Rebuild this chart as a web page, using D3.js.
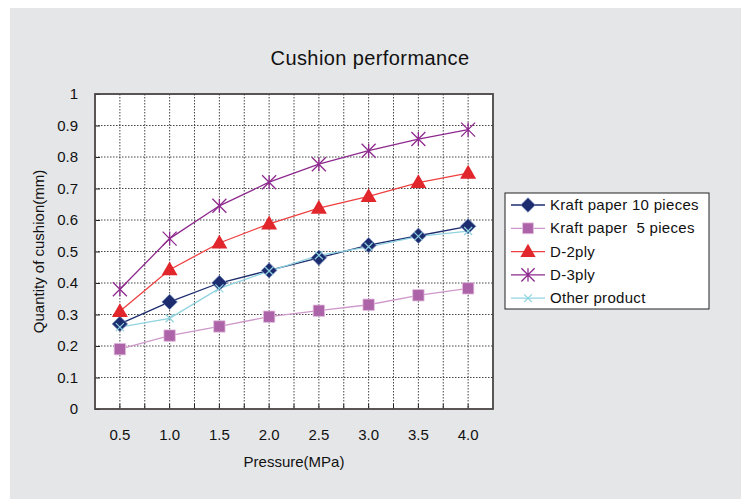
<!DOCTYPE html>
<html>
<head>
<meta charset="utf-8">
<script src="https://cdn.jsdelivr.net/npm/d3@7/dist/d3.min.js"></script>
<style>
  body { margin: 0; background: #fff; }
  text { font-family: "Liberation Sans", Arial, sans-serif; fill: #111; }
</style>
</head>
<body>
<svg id="chart" width="741" height="500"></svg>
<script>
// data
const pressures = ['0.5', '1.0', '1.5', '2.0', '2.5', '3.0', '3.5', '4.0'];
const yTicks = [0, 0.1, 0.2, 0.3, 0.4, 0.5, 0.6, 0.7, 0.8, 0.9, 1];
const kraft10 = [0.27, 0.34, 0.40, 0.44, 0.48, 0.52, 0.55, 0.58];
const kraft5 = [0.19, 0.233, 0.262, 0.293, 0.312, 0.331, 0.361, 0.383];
const d2ply = [0.31, 0.442, 0.527, 0.588, 0.638, 0.675, 0.719, 0.749];
const d3ply = [0.38, 0.541, 0.645, 0.72, 0.777, 0.82, 0.857, 0.887];
const other = [0.26, 0.288, 0.383, 0.438, 0.488, 0.515, 0.548, 0.565];

const series = [
    {name: 'Kraft paper 10 pieces', values: kraft10, line: '#1c2c6e', fill: '#1c2c6e', marker: 'diamond'},
    {name: 'Kraft paper  5 pieces', values: kraft5, line: '#cf98cb', fill: '#ad63a7', marker: 'square'},
    {name: 'D-2ply', values: d2ply, line: '#ef4040', fill: '#e1262c', marker: 'triangle'},
    {name: 'D-3ply', values: d3ply, line: '#8e2a8e', fill: '#8e2a8e', marker: 'star'},
    {name: 'Other product', values: other, line: '#8fd3df', fill: '#8fd3df', marker: 'x'}
];

const svg = d3.select('#chart');
const PLOT_L = 95, PLOT_T = 94, PLOT_R = 493, PLOT_B = 409;

svg.append('rect').attr('x', 10).attr('y', 8).attr('width', 731).attr('height', 491).attr('fill', '#e5e6e8');

svg.append('text').attr('x', 370).attr('y', 65).attr('text-anchor', 'middle')
    .style('font-size', '20px').style('letter-spacing', '0.4px').text('Cushion performance');

const x = d3.scaleBand().domain(pressures).range([PLOT_L, PLOT_R]);
const y = d3.scaleLinear().domain([0, 1]).range([PLOT_B, PLOT_T]);
const cx = d => x(d) + x.bandwidth() / 2;

svg.append('rect').attr('x', PLOT_L).attr('y', PLOT_T)
    .attr('width', PLOT_R - PLOT_L).attr('height', PLOT_B - PLOT_T).attr('fill', '#fff');

// grid: vertical at band centres and boundaries, horizontal every 0.1
const vLines = [];
pressures.forEach((p, i) => {
    if (i > 0) vLines.push(x(p));
    vLines.push(cx(p));
});
svg.append('g').selectAll('line.vg').data(vLines).enter().append('line')
    .attr('x1', d => d).attr('x2', d => d).attr('y1', PLOT_T).attr('y2', PLOT_B)
    .attr('stroke', '#444').attr('stroke-width', 1).attr('stroke-dasharray', '1.5,1.5');
svg.append('g').selectAll('line.hg').data(yTicks.slice(1, -1)).enter().append('line')
    .attr('x1', PLOT_L).attr('x2', PLOT_R).attr('y1', d => y(d)).attr('y2', d => y(d))
    .attr('stroke', '#444').attr('stroke-width', 1).attr('stroke-dasharray', '1.5,1.5');

// axes
const yAxis = svg.append('g').attr('transform', 'translate(' + PLOT_L + ',0)')
    .call(d3.axisRight(y).tickValues(yTicks).tickSize(5).tickFormat(d => d === 0 || d === 1 ? d : d.toFixed(1)));
yAxis.select('.domain').remove();
yAxis.selectAll('line').attr('stroke', '#222');
yAxis.selectAll('text').attr('x', -17).attr('text-anchor', 'end').style('font-size', '15px');

const xAxis = svg.append('g').attr('transform', 'translate(0,' + PLOT_B + ')')
    .call(d3.axisBottom(x).tickSize(0).tickPadding(20));
xAxis.select('.domain').remove();
xAxis.selectAll('text').style('font-size', '15px');
svg.append('g').selectAll('line.xt').data(vLines).enter().append('line')
    .attr('x1', d => d).attr('x2', d => d).attr('y1', PLOT_B).attr('y2', PLOT_B - 5)
    .attr('stroke', '#222');

svg.append('rect').attr('x', PLOT_L).attr('y', PLOT_T)
    .attr('width', PLOT_R - PLOT_L).attr('height', PLOT_B - PLOT_T)
    .attr('fill', 'none').attr('stroke', '#4a4444').attr('stroke-width', 1.8);

svg.append('text').attr('x', 294).attr('y', 467).attr('text-anchor', 'middle')
    .style('font-size', '15px').text('Pressure(MPa)');
svg.append('text').attr('transform', 'translate(44,' + ((PLOT_T + PLOT_B) / 2) + ') rotate(-90)')
    .attr('text-anchor', 'middle').style('font-size', '15px').text('Quantity of cushion(mm)');

function drawMarker(g, s, px, py, scale) {
    const k = scale || 1;
    if (s.marker === 'diamond') {
        g.append('path').attr('d', d3.symbol(d3.symbolDiamond2, 150 * k)())
            .attr('transform', `translate(${px},${py})`)
            .attr('fill', s.fill).attr('stroke', '#6f86b8').attr('stroke-width', 0.8);
    } else if (s.marker === 'square') {
        g.append('path').attr('d', d3.symbol(d3.symbolSquare, 130 * k)())
            .attr('transform', `translate(${px},${py})`)
            .attr('fill', s.fill).attr('stroke', '#e3bfe0').attr('stroke-width', 0.8);
    } else if (s.marker === 'triangle') {
        g.append('path').attr('d', d3.symbol(d3.symbolTriangle, 110 * k)())
            .attr('transform', `translate(${px},${py + 1})`).attr('fill', s.fill);
    } else if (s.marker === 'star') {
        const r = 7 * Math.sqrt(k);
        g.append('path')
            .attr('d', `M${px - r},${py - r}L${px + r},${py + r}M${px - r},${py + r}L${px + r},${py - r}M${px},${py - r}L${px},${py + r}`)
            .attr('stroke', s.fill).attr('stroke-width', 1.3).attr('fill', 'none');
    } else {
        const r = 4 * Math.sqrt(k);
        g.append('path')
            .attr('d', `M${px - r},${py - r}L${px + r},${py + r}M${px - r},${py + r}L${px + r},${py - r}`)
            .attr('stroke', s.fill).attr('stroke-width', 1.2).attr('fill', 'none');
    }
}

const line = d3.line().x((d, i) => cx(pressures[i])).y(d => y(d));
const seriesG = svg.append('g');
series.forEach(s => {
    seriesG.append('path').datum(s.values).attr('d', line)
        .attr('fill', 'none').attr('stroke', s.line).attr('stroke-width', 1.3);
});
series.forEach(s => {
    s.values.forEach((v, i) => drawMarker(seriesG, s, cx(pressures[i]), y(v)));
});

// legend
const LEG_X = 505, LEG_Y = 193, LEG_ROW = 23.3;
svg.append('rect').attr('x', LEG_X).attr('y', LEG_Y).attr('width', 204).attr('height', 116)
    .attr('fill', '#fff').attr('stroke', '#222').attr('stroke-width', 1);
series.forEach((s, i) => {
    const ly = LEG_Y + 12 + i * LEG_ROW;
    const g = svg.append('g');
    g.append('line').attr('x1', LEG_X + 6).attr('x2', LEG_X + 40).attr('y1', ly).attr('y2', ly)
        .attr('stroke', s.line).attr('stroke-width', 1.3);
    drawMarker(g, s, LEG_X + 23, ly, 0.9);
    g.append('text').attr('x', LEG_X + 45).attr('y', ly + 5).style('font-size', '15px')
        .style('letter-spacing', '0.3px').attr('xml:space', 'preserve').text(s.name);
});
</script>
</body>
</html>
